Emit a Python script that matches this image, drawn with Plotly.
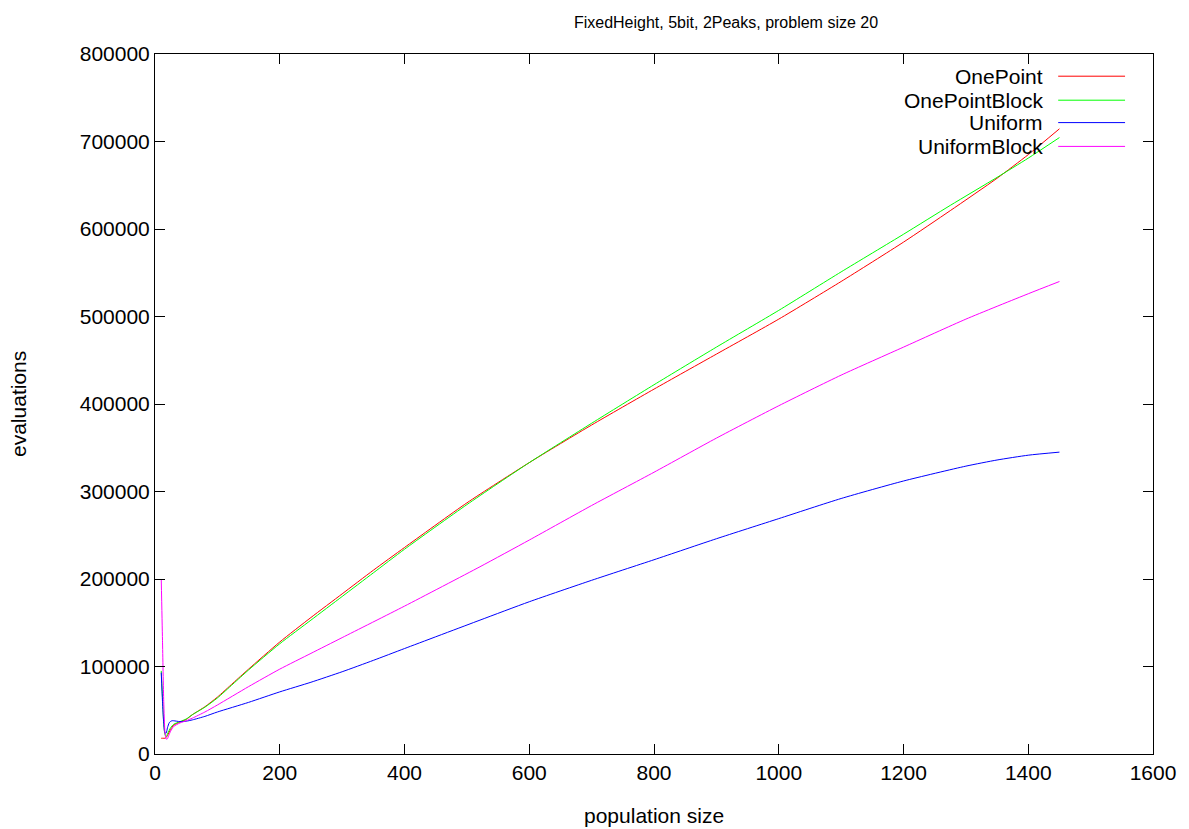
import plotly.graph_objects as go

# population sizes (x) and evaluations per series
pop_onepoint = [10, 13, 16, 18, 20, 25, 30, 40, 50, 60, 80, 100, 125, 150, 200, 250, 300, 350, 400, 500, 600, 700, 800, 900, 1000, 1100, 1200, 1275, 1350, 1400, 1450]
onepoint = [18000, 18000, 18000, 19000, 21000, 28000, 33000, 36500, 39500, 45000, 54000, 65000, 81000, 97000, 128000, 156000, 183000, 210000, 236000, 287000, 333000, 376000, 417000, 457000, 497000, 540000, 585000, 621000, 658000, 685000, 714500]

pop_onepointblock = [10, 12, 14, 16, 18, 20, 25, 30, 40, 50, 60, 80, 100, 125, 150, 200, 250, 300, 350, 400, 500, 600, 700, 800, 900, 1000, 1100, 1200, 1275, 1350, 1400, 1450]
onepointblock = [95000, 65000, 35000, 22000, 20000, 23000, 30000, 34000, 37000, 40000, 45000, 53500, 64000, 80000, 96000, 126000, 153000, 180000, 207000, 234000, 285000, 333000, 378000, 422000, 465000, 507000, 551000, 594000, 627000, 659000, 681000, 704500]

pop_uniform = [10, 12, 14, 16, 18, 20, 23, 27, 30, 40, 50, 60, 80, 100, 150, 200, 250, 300, 350, 400, 521, 600, 700, 800, 900, 1000, 1100, 1200, 1300, 1350, 1400, 1450]
uniform = [93000, 60000, 35000, 24000, 24000, 30000, 36000, 38000, 38000, 37000, 37500, 39000, 43000, 48000, 59000, 71000, 82000, 94000, 107000, 120500, 153000, 174000, 198500, 222000, 246000, 269000, 292000, 312000, 329000, 336000, 341500, 345000]

pop_uniformblock = [10, 12, 14, 16, 18, 20, 22, 25, 30, 40, 50, 60, 80, 100, 150, 200, 250, 300, 400, 521, 600, 700, 800, 900, 1000, 1100, 1200, 1300, 1400, 1450]
uniformblock = [200000, 130000, 60000, 25000, 17000, 17500, 21000, 26000, 31500, 35500, 38000, 41000, 48000, 56000, 77000, 97000, 115000, 133000, 169000, 214000, 244500, 284000, 322000, 361000, 398000, 433000, 465000, 497000, 526000, 540000]

x_ticks = [0, 200, 400, 600, 800, 1000, 1200, 1400, 1600]
y_ticks = [0, 100000, 200000, 300000, 400000, 500000, 600000, 700000, 800000]

series = [
    ("OnePoint", pop_onepoint, onepoint, "#ff0000"),
    ("OnePointBlock", pop_onepointblock, onepointblock, "#00ff00"),
    ("Uniform", pop_uniform, uniform, "#0000ff"),
    ("UniformBlock", pop_uniformblock, uniformblock, "#ff00ff"),
]

FONT = "Liberation Sans, Arial, sans-serif"
W, H = 1189, 829
L, R, T, B = 155, 36, 54, 75

fig = go.Figure()
for name, xs, ys, col in series:
    fig.add_trace(go.Scatter(x=xs, y=ys, mode="lines", name=name,
                             line=dict(color=col, width=1, shape="spline", smoothing=0.6),
                             showlegend=False))

# gnuplot-style legend: right-aligned text, sample line to the right
row_y = [0.9683, 0.934, 0.902, 0.868]
for (name, xs, ys, col), yy in zip(series, row_y):
    fig.add_annotation(x=0.891, y=yy, xref="paper", yref="paper", text=name,
                       showarrow=False, xanchor="right", yanchor="middle", borderpad=0,
                       font=dict(family=FONT, size=21, color="black"))
    fig.add_shape(type="line", xref="paper", yref="paper", x0=0.905, x1=0.972,
                  y0=yy, y1=yy, line=dict(color=col, width=1))

# axis titles placed like gnuplot
pw, ph = W - L - R, H - T - B
fig.add_annotation(x=(654 - L) / pw, y=-(815 - (H - B)) / ph, xref="paper", yref="paper",
                   text="population size", showarrow=False, xanchor="center", yanchor="middle",
                   font=dict(family=FONT, size=21, color="black"))
fig.add_annotation(x=-(L - 18) / pw, y=((H - B) - 404) / ph, xref="paper", yref="paper",
                   text="evaluations", showarrow=False, textangle=-90, xanchor="center", yanchor="middle",
                   font=dict(family=FONT, size=21, color="black"))

axis_common = dict(showline=True, linecolor="black", linewidth=1, mirror="ticks",
                   ticks="inside", ticklen=10, tickcolor="black", tickwidth=1,
                   showgrid=False, zeroline=False, automargin=False,
                   tickfont=dict(family=FONT, size=21, color="black"))

fig.update_layout(
    width=W, height=H,
    margin=dict(l=L, r=R, t=T, b=B, autoexpand=False),
    paper_bgcolor="white", plot_bgcolor="white",
    title=dict(text="FixedHeight, 5bit, 2Peaks, problem size 20", x=726 / W, xanchor="center",
               y=1 - 22 / H, yanchor="middle", font=dict(family=FONT, size=16, color="black")),
    xaxis=dict(range=[0, 1600], tickvals=x_ticks, ticktext=[str(v) for v in x_ticks], **axis_common),
    yaxis=dict(range=[0, 800000], tickvals=y_ticks, ticktext=[str(v) for v in y_ticks], **axis_common),
)

fig.write_html("out.html")
